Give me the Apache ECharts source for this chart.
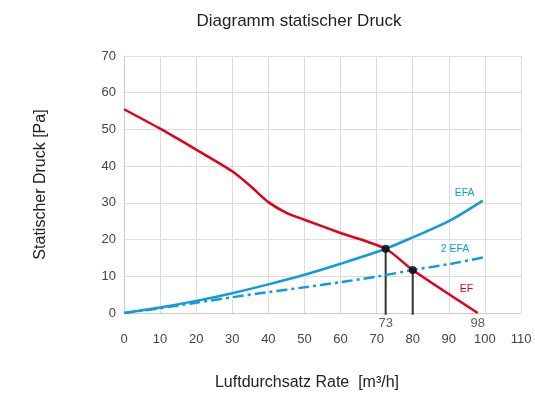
<!DOCTYPE html>
<html>
<head>
<meta charset="utf-8">
<script src="https://cdn.jsdelivr.net/npm/echarts@6/dist/echarts.min.js"></script>
<style>
  html, body { margin: 0; padding: 0; background: #fff; }
  #chart { width: 535px; height: 397px; }
</style>
</head>
<body>
<div id="chart"></div>
<script>
// Fan curves: static pressure [Pa] over air flow rate [m³/h]
const curveEF = [
  [0, 55.5], [10, 50.2], [20, 44.5], [30, 38.6], [35, 34.6], [40, 30.2],
  [45, 27.3], [50, 25.4], [60, 21.8], [72.5, 17.5], [80, 11.7], [98, 0]
];
const curveEFA = [
  [0, 0], [10, 1.5], [20, 3.3], [30, 5.4], [40, 7.8], [50, 10.4], [60, 13.4],
  [72.5, 17.5], [80, 20.6], [90, 25.0], [99.4, 30.6]
];
const curve2EFA = [
  [0, 0], [10, 1.3], [20, 2.8], [30, 4.3], [40, 5.7], [50, 7.0], [60, 8.4],
  [70, 9.9], [80, 11.7], [90, 13.3], [99.4, 15.1]
];
// Operating points (intersections) and their flow labels
const operatingPoints = [[72.5, 17.5], [80, 11.7]];
const flowMarks = [[72.5, '73'], [98, '98']];

const RED = '#e3001b';
const BLUE = '#119bd9';
const FONT = 'Liberation Sans, Arial, sans-serif';

const chart = echarts.init(document.getElementById('chart'), null, { renderer: 'canvas' });

const dropLines = operatingPoints.map(p => ({
  type: 'line',
  data: [[p[0], p[1]], [p[0], -0.5]],
  clip: false,
  symbol: 'none',
  z: 3,
  lineStyle: { color: '#333', width: 2 },
  silent: true
}));

chart.setOption({
  animation: false,
  backgroundColor: '#fff',
  textStyle: { fontFamily: FONT },
  title: [
    {
      text: 'Diagramm statischer Druck',
      left: 294, top: 8, textAlign: 'center',
      textStyle: { fontSize: 17, fontWeight: 'normal', color: '#222', fontFamily: FONT }
    },
    {
      text: 'Luftdurchsatz Rate  [m³/h]',
      left: 302, top: 370, textAlign: 'center',
      textStyle: { fontSize: 16, fontWeight: 'normal', color: '#222', fontFamily: FONT }
    }
  ],
  grid: { left: 124, right: 14, top: 56, bottom: 84, containLabel: false },
  xAxis: {
    type: 'value', min: 0, max: 110, interval: 10,
    axisLine: { show: true, lineStyle: { color: '#ccc', width: 1 } },
    axisTick: { show: false },
    splitLine: { show: true, lineStyle: { color: '#dcdcdc', width: 1 } },
    axisLabel: { color: '#444', fontSize: 13, margin: 20 }
  },
  yAxis: {
    type: 'value', min: 0, max: 70, interval: 10,
    name: 'Statischer Druck [Pa]',
    nameLocation: 'middle', nameGap: 75, nameRotate: 90,
    nameTextStyle: { fontSize: 16, color: '#222' },
    axisLine: { show: true, lineStyle: { color: '#ccc', width: 1 } },
    axisTick: { show: false },
    splitLine: { show: true, lineStyle: { color: '#dcdcdc', width: 1 } },
    axisLabel: { color: '#444', fontSize: 13, margin: 8 }
  },
  series: [
    {
      name: 'EF', type: 'line', data: curveEF, smooth: 0.25, symbol: 'none', z: 4,
      lineStyle: { color: RED, width: 2.5 },
      endLabel: { show: true, formatter: 'EF', color: RED, fontSize: 10.5, offset: [-26, -24] }
    },
    {
      name: 'EFA', type: 'line', data: curveEFA, smooth: 0.3, symbol: 'none', z: 4,
      lineStyle: { color: BLUE, width: 2.5 },
      endLabel: { show: true, formatter: 'EFA', color: BLUE, fontSize: 10.5, offset: [-36, -8] }
    },
    {
      name: '2 EFA', type: 'line', data: curve2EFA, smooth: 0.3, symbol: 'none', z: 4,
      lineStyle: { color: BLUE, width: 2.5, type: [11, 4, 3, 4] },
      endLabel: { show: true, formatter: '2 EFA', color: BLUE, fontSize: 10.5, offset: [-50, -8] }
    },
    ...dropLines,
    {
      type: 'scatter', data: operatingPoints, symbol: 'circle', symbolSize: 8, z: 6,
      itemStyle: { color: '#000' }
    },
    {
      type: 'scatter', z: 6, clip: false,
      data: flowMarks.map(m => ({ value: [m[0], 0], name: m[1] })),
      symbolSize: 0,
      label: { show: true, position: 'bottom', distance: 4, formatter: p => p.name, color: '#333', fontSize: 13 }
    }
  ]
});
</script>
</body>
</html>
